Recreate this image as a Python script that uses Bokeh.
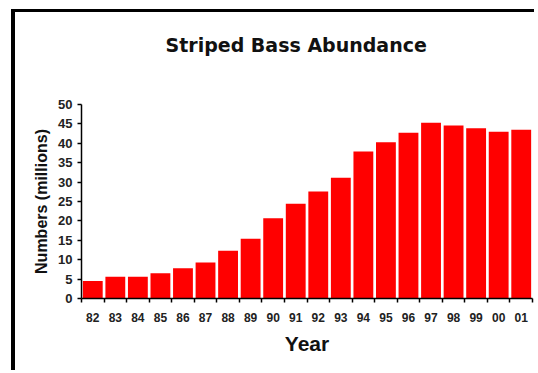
from bokeh.plotting import figure
from bokeh.models import Range1d, FixedTicker, Title
from bokeh.embed import file_html
from bokeh.resources import INLINE

chart_title = "Striped Bass Abundance"
years = ["82", "83", "84", "85", "86", "87", "88", "89", "90", "91",
         "92", "93", "94", "95", "96", "97", "98", "99", "00", "01"]
abundance = [4.5, 5.6, 5.6, 6.5, 7.8, 9.3, 12.3, 15.4, 20.7, 24.4,
             27.6, 31.1, 37.9, 40.3, 42.7, 45.3, 44.6, 43.9, 43.0, 43.5]
y_ticks = [0, 5, 10, 15, 20, 25, 30, 35, 40, 45, 50]

xs = list(range(len(years)))

p = figure(width=523, height=361, output_backend="svg", toolbar_location=None,
           x_range=Range1d(-0.5, len(years) - 0.5), y_range=Range1d(0, 50),
           min_border_left=66, min_border_right=6, min_border_top=92,
           min_border_bottom=75)
p.margin = (9, 0, 0, 11)
p.styles = {"border-left": "4px solid black", "border-top": "3px solid black"}
p.outline_line_color = None
p.xgrid.visible = False
p.ygrid.visible = False
p.background_fill_color = "white"
p.border_fill_color = "white"

# spacer panel between the frame and the title
p.add_layout(Title(text=" ", text_font_size="10px", standoff=36), "above")
p.add_layout(Title(text=chart_title, align="left", offset=84, standoff=0,
                   text_font="DejaVu Sans", text_font_style="bold",
                   text_font_size="19px", text_color="#111111"), "above")

p.vbar(x=xs, top=abundance, width=0.88, fill_color="#ff0000", line_color=None)

# x axis
p.xaxis.ticker = FixedTicker(ticks=xs, minor_ticks=[x - 0.5 for x in xs] + [len(xs) - 0.5])
p.xaxis.major_label_overrides = {x: lab for x, lab in zip(xs, years)}
p.xaxis.major_tick_out = 0
p.xaxis.major_tick_in = 0
p.xaxis.minor_tick_out = 4
p.xaxis.minor_tick_in = 0
p.xaxis.minor_tick_line_color = "black"
p.xaxis.minor_tick_line_width = 1.5
p.xaxis.axis_line_width = 1.5
p.xaxis.axis_line_color = "black"
p.xaxis.major_label_standoff = 10
p.xaxis.major_label_text_font = "Liberation Sans"
p.xaxis.major_label_text_font_style = "bold"
p.xaxis.major_label_text_font_size = "12px"
p.xaxis.major_label_text_color = "#222222"
p.xaxis.axis_label = "Year"
p.xaxis.axis_label_text_font = "Liberation Sans"
p.xaxis.axis_label_text_font_style = "bold"
p.xaxis.axis_label_text_font_size = "21px"
p.xaxis.axis_label_standoff = 7
p.xaxis.axis_label_text_color = "#111111"

# y axis
p.yaxis.ticker = FixedTicker(ticks=y_ticks, minor_ticks=[])
p.yaxis.major_tick_out = 4
p.yaxis.major_tick_in = 0
p.yaxis.major_tick_line_width = 1.5
p.yaxis.axis_line_width = 1.5
p.yaxis.axis_line_color = "black"
p.yaxis.major_label_standoff = 5
p.yaxis.major_label_text_font = "Liberation Sans"
p.yaxis.major_label_text_font_style = "bold"
p.yaxis.major_label_text_font_size = "13px"
p.yaxis.major_label_text_color = "#222222"
p.yaxis.axis_label = "Numbers (millions)"
p.yaxis.axis_label_text_font = "Liberation Sans"
p.yaxis.axis_label_text_font_style = "bold"
p.yaxis.axis_label_text_font_size = "16px"
p.yaxis.axis_label_standoff = 5
p.yaxis.axis_label_text_color = "#111111"

open("out.html", "w").write(file_html(p, INLINE))
